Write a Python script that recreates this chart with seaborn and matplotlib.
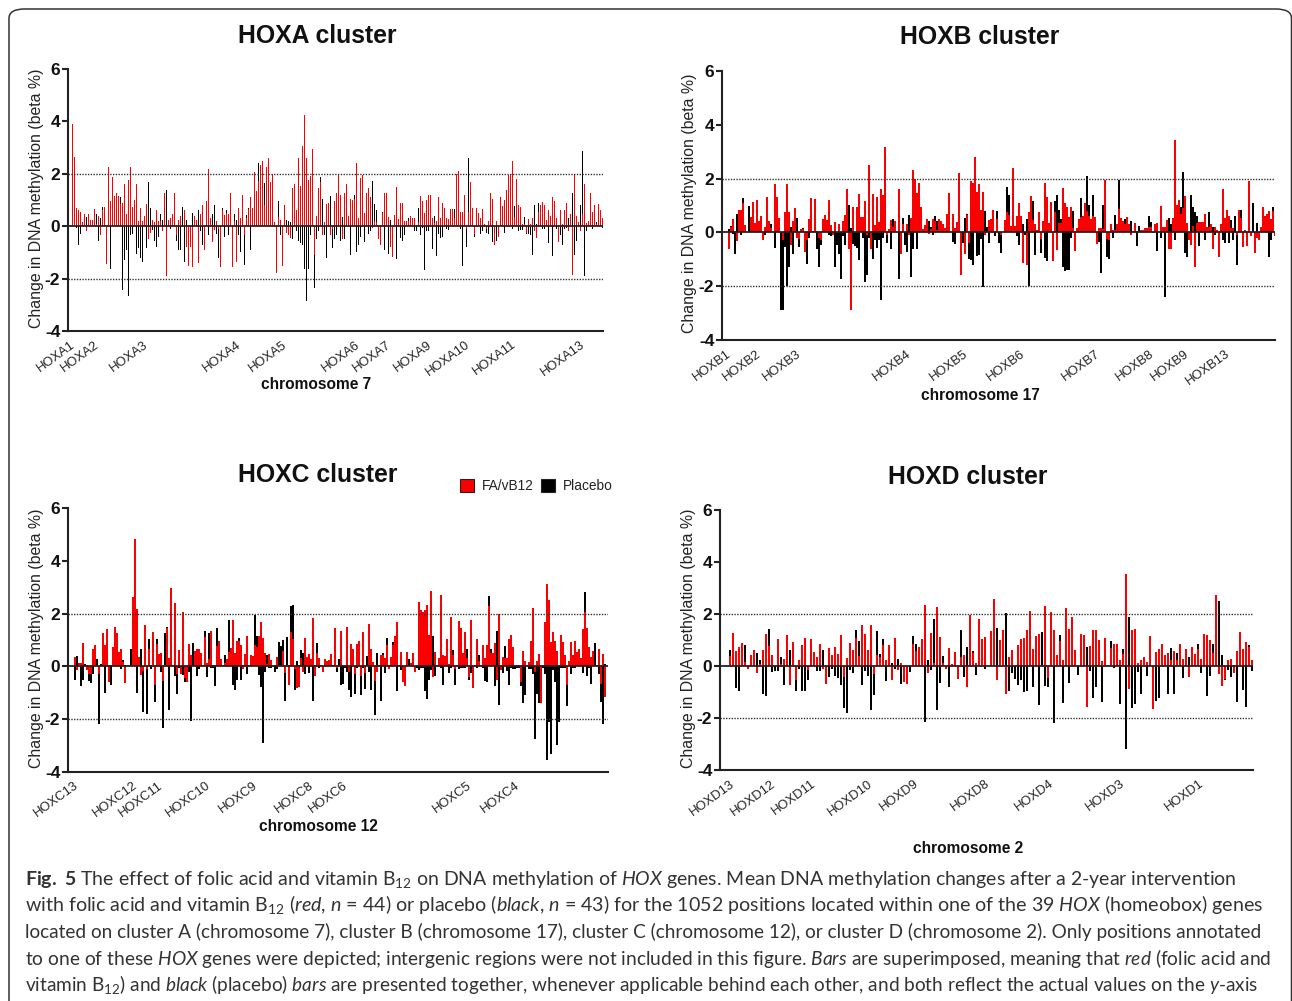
import matplotlib
matplotlib.use('Agg')
import matplotlib.pyplot as plt
from matplotlib.patches import FancyBboxPatch, Rectangle
import numpy as np
import seaborn as sns

W, H = 1292, 1001

# values, one list per cluster and arm
a_red = [3.9,2.65,.7,.6,.55,.15,.48,-.2,.48,.25,
    .25,.67,.1,.4,-.35,.62,.75,-1.45,2.25,.95,
    1.88,1.15,1.25,1.15,.85,.9,1.62,.45,1.75,2.25,
    .75,1.0,1.6,.2,.68,.2,.4,.83,-.5,-.25,
    .25,.15,.63,.18,.2,-.2,1.28,-1.9,.25,.3,
    .45,1.25,-.35,.25,.38,0,.63,-.78,-1.5,-.78,
    -1.55,.38,.25,-1.4,.48,.8,-.92,.98,2.2,.33,
    -.62,-.15,.18,-.12,-1.55,.6,.42,.52,.48,1.25,
    -1.55,.2,-1.35,.7,.33,1.2,-.32,.3,.65,1.13,
    .7,2.05,1.33,1.72,2.35,2.5,.8,2.25,2.62,1.7,
    2.0,.15,-1.8,.37,.25,-1.5,.8,-.25,-.35,-.45,
    1.45,1.6,.6,2.62,1.52,3.05,4.25,2.62,1.75,1.93,
    2.93,-1.1,.38,1.45,1.67,-.35,.15,.85,.9,-.35,
    -.1,.98,1.25,2.0,1.2,-.5,1.25,1.6,.4,1.05,
    1.0,1.05,2.42,.32,1.85,1.95,.5,1.25,1.45,1.1,
    -.05,.2,.15,-.5,-.7,.5,1.25,1.25,.37,-.8,
    -1.18,.42,1.48,.28,.9,.87,.2,.2,.2,.4,
    .33,.3,.05,.15,1.15,.95,.5,1.0,1.18,1.18,
    .33,.13,.2,1.1,.3,.9,.7,.33,.27,.65,
    .65,.33,2.0,2.1,.55,.55,1.18,-.1,.55,1.7,
    .68,-.3,.68,.5,.3,.65,.1,-.1,.2,1.25,
    1.05,-.7,.2,-.4,1.1,.78,1.0,1.4,1.95,2.0,
    2.5,.35,1.82,.8,.73,.1,.1,-.25,.28,.1,
    .33,-.2,-.45,.55,.8,.92,.8,.23,.62,.4,
    1.1,.95,.33,-.6,.6,.1,.63,.9,-.2,.45,
    -1.87,2.0,.4,.15,-.2,.45,1.6,.12,.2,1.25,
    .55,.8,.1,.85,.63,.3]
a_black = [2.25,1.2,-.05,-.7,-.3,.05,0,.35,.48,.05,
    .08,.48,.48,-.58,.3,.75,0,0,0,-1.65,
    1.18,.3,0,.3,1.1,-2.42,-1.3,-.9,-2.68,-.35,
    -.28,.7,-1.05,-.85,-1.22,-1.38,.4,-.85,1.67,.68,
    -.15,-.58,-.8,-.4,.45,.22,0,1.4,.18,-.1,
    .1,1.1,-.55,-.9,-.9,.75,-1.35,.25,-.55,-.65,
    .52,.35,.1,.6,-.18,-.7,-.38,.1,-.35,.1,
    .45,.8,-.3,-1.2,-.58,.68,-.42,.6,-.35,.45,
    -.05,.45,.22,-.35,-1.0,.3,-1.47,.42,.7,-.9,
    0,0,0,2.4,0,1.65,1.65,.6,.42,0,
    .98,-.02,0,.95,-.33,0,0,.22,.2,.15,
    -.5,0,-.2,-.55,-.65,-.72,-1.65,-2.85,-1.65,-.35,
    0,-2.35,-.5,-.18,1.87,1.05,-.35,-1.2,.2,1.17,
    -.85,-.5,-.35,.2,-.55,.35,-.5,1.1,.3,-1.1,
    0,1.18,-1.0,-.7,-.4,0,-.6,.55,-.3,-.2,
    1.72,.85,.6,-.2,0,.55,-.9,0,-1.05,.23,
    -.35,.25,-1.25,.1,-.45,-.55,-.35,.1,.3,.1,
    .05,-.2,-.2,.68,-.35,-.05,-1.68,-.2,-.2,.1,
    -.88,.4,-1.15,-.3,-.45,-.4,.2,-.1,-.15,.1,
    .65,.65,0,.62,-.1,-1.5,.1,-.8,2.6,1.25,
    .3,-.4,.3,.3,-.3,-.2,.05,-.25,-.3,.2,
    -.6,-.2,-.55,-.35,.1,.1,-.25,.2,0,.1,
    -.1,.77,.1,-.2,-.15,-.15,.35,-.3,-.3,-.35,
    -1.1,.8,.1,.9,.75,-.1,-.1,.1,-.65,.35,
    -1.15,.1,-.1,-.2,-.35,-.7,-.1,-.05,.3,.4,
    1.25,-1.1,-.55,.15,.8,2.87,-1.9,-.2,.1,.2,
    -.1,.1,.15,.73,.1,-.05]

b_red = [-.6,.2,.5,.05,-.32,.83,.83,1.1,.27,0,
    0,.57,1.12,.35,1.2,.42,.6,-.28,.2,1.32,
    .42,.18,0,1.8,1.3,.53,0,-.3,.75,1.8,
    .75,-.45,.42,.9,-.2,-.25,.12,.12,-.73,-.3,
    .5,1.27,0,1.23,.05,-.2,-.3,.5,.63,.45,
    1.2,.27,-.1,.38,0,.32,0,.42,.63,1.6,
    -.6,-2.88,.93,0,.93,1.42,.57,.57,1.17,-.1,
    2.5,-.6,1.42,.27,1.32,.4,1.6,1.4,3.17,-.1,
    .12,.45,.2,.42,0,1.6,-.8,.32,0,.32,
    -.1,.55,2.32,2.0,1.47,1.83,.95,.12,.27,.5,
    -.05,.12,.5,.42,.1,.5,.42,.32,.15,.68,
    1.47,0,.68,.15,.4,2.2,-1.58,0,-.8,.63,
    -.4,1.9,1.85,2.8,1.5,1.8,.85,1.5,-.1,0,
    .45,.5,.85,.05,.5,0,-.1,.03,.45,.75,
    .65,.22,2.4,.22,.6,1.1,.6,-1.15,0,-1.2,
    .75,1.35,.45,.3,.1,.75,-.25,.42,1.85,1.3,
    .35,1.13,-1.05,.75,-.65,.35,.35,1.65,1.08,.95,
    .58,.95,.15,-.68,.17,.48,.58,.6,1.08,.8,
    .6,.5,.6,.57,-.42,.15,.15,.13,1.95,-.25,
    -.3,.3,.1,.1,.3,.88,.53,.42,.3,.57,
    .32,-.08,.05,.35,.05,0,.08,.1,.17,.18,
    .2,.2,-.03,.33,.35,0,.98,.2,.2,.47,
    -.6,-.6,.55,3.42,1.0,1.2,.7,.9,1.35,.35,
    -.3,-.45,.25,-1.27,.35,.4,.4,.4,.7,.2,
    .2,.3,-.6,.2,.1,-.9,.3,1.62,.55,.85,
    .6,.17,.15,0,-.1,.85,.55,-.55,.1,-.5,
    1.9,-.15,0,-.75,-.2,-.3,.2,.95,.6,.68,
    .8,.5,.78,-.15]
b_black = [.13,.22,-.05,-.8,.68,0,-.1,1.27,0,0,
    .97,0,0,0,0,0,0,0,-.1,0,
    0,.3,0,-.57,0,0,-2.9,-2.9,-.55,-2.0,
    -1.27,.2,-.8,0,.52,-.55,0,.15,0,-1.17,
    -.2,0,.05,0,-.6,-1.3,-.45,0,0,.45,
    -.1,-.12,0,-1.3,-.47,-.8,-1.72,-.15,-.45,0,
    1.0,.15,-.42,-.5,-.58,-1.02,.57,-.22,-1.83,-1.57,
    -.2,0,-1.0,-.27,-.57,-.27,-2.5,-.22,0,-.38,
    0,-.63,.48,0,0,-1.72,0,.53,-.45,-.72,
    .63,-1.65,-.63,0,-.63,0,0,0,0,0,
    .42,.2,-.08,.6,.42,0,0,0,0,0,
    0,0,-.35,-.42,0,0,0,-.38,.52,.7,
    -1.0,-1.03,-1.2,0,-.88,-.83,-.25,-2.03,.8,.2,
    -.4,0,0,-.15,.8,-.4,-.75,0,0,1.68,
    1.4,0,0,0,-.15,-.48,.55,.32,-.1,.48,
    -1.98,0,1.15,-.85,0,.1,-.75,0,-.97,-1.08,
    0,0,0,1.15,1.4,.85,.5,-1.3,-1.42,-1.4,
    -1.38,-.2,.8,-.1,0,0,1.28,.3,0,2.08,
    1.0,0,1.4,0,0,-.35,-1.5,1.03,0,-.9,
    -1.0,0,-.2,.65,0,1.95,0,0,.5,0,
    0,.42,0,0,-.5,.22,0,0,0,0,
    .6,.4,0,0,-.7,0,-.22,0,-2.42,.3,
    .55,.3,0,-.3,0,.6,.95,2.25,-.75,-.9,
    0,1.4,.95,.75,.6,-.5,0,0,-.3,0,
    .75,0,.2,-.08,.05,0,0,-.3,-.4,0,
    -.4,.45,-.3,.6,-1.23,.8,.82,-.35,0,-.28,
    0,0,1.08,0,.35,0,0,0,0,0,
    -.9,-.3,.95,0]

c_red = [.35,-.12,.13,.13,.88,0,-.15,-.3,-.3,.65,
    .8,.05,-.28,0,1.27,.8,1.42,-.6,.05,.73,
    1.5,1.27,.55,.65,.18,-.62,.05,.05,.05,2.63,4.83,2.18,
    .35,-.32,-.18,1.57,-.1,.65,.05,1.3,-.7,.85,
    .47,.5,-.55,.05,1.47,.32,2.97,.05,2.4,-.28,
    .62,-.3,2.07,-.45,-.6,.85,.43,.05,.58,.65,
    .65,.5,.05,1.12,.13,.27,1.33,.05,.05,.78,
    .95,.27,.05,.13,.27,.53,.7,1.75,.5,.97,
    .97,.8,-.08,.47,1.15,.05,.43,.4,
    .8,.75,1.15,1.68,1.07,.5,.1,.47,.25,.05,
    .05,.35,.05,.05,.6,-.25,.05,-.7,1.3,1.05,
    -.1,-.8,-.78,.33,-.2,1.08,.37,.47,.28,1.83,
    -.35,.5,.3,.05,-.2,.28,.2,.25,.48,.05,
    1.47,-.05,.05,1.35,.05,.05,1.5,-.2,.85,.65,
    -.3,.85,.97,-.35,1.3,-.25,.05,1.62,.67,.18,
    -.55,-.2,.05,.45,.45,.3,.8,-.1,.35,.8,
    1.17,1.7,.05,.55,-.6,-.73,.55,.05,.12,.5,
    -.23,.05,2.45,2.15,2.05,2.15,2.33,1.2,2.87,-.4,
    .55,.05,.3,2.72,.43,.4,1.05,.1,1.87,.45,
    -.1,.05,1.73,1.47,.52,1.3,.3,-.42,1.77,-.8,
    .05,1.05,.22,.05,.8,.3,.8,2.3,.5,.5,
    .9,-.5,1.97,-.15,.35,.3,.33,1.05,1.18,.75,
    .05,.05,.05,-.6,.6,.22,.05,.15,.95,2.2,
    -.2,.22,.47,-1.38,.05,1.7,3.13,2.53,.93,1.3,
    .97,.57,.05,1.2,.93,.42,-.7,.2,.93,.42,
    .98,.55,.65,.3,1.4,2.07,1.47,.75,.37,.57,
    .05,.05,.65,-.65,.48,-1.17]
c_black = [-.5,.38,.1,-.73,-.5,.08,.05,-.55,-.62,-.28,
    .05,.28,-2.2,.1,.05,-1.0,.05,.05,-.72,.1,
    .05,.05,.05,-.1,.23,.05,.05,.05,.65,0,0,-1.0,
    0,.65,-1.72,.05,-1.8,1.03,-.1,.05,-1.35,1.03,
    .05,-.2,-2.33,1.27,1.5,-1.65,0,.05,-.38,-1.03,
    -.05,-.05,-.33,-.6,-.2,-.2,-2.05,.88,.05,-.35,
    -.1,.05,.05,1.33,-.42,1.27,-.05,-.05,-.73,1.45,
    .05,.27,.05,.42,.05,1.75,.7,-.72,-.88,-.5,
    1.07,-.5,.05,.05,-.27,.05,.05,.05,
    1.95,1.15,-.33,-.78,-2.9,-.2,.43,-.05,-.07,.05,
    -.22,-.08,.92,.77,1.0,-1.3,1.12,.05,2.3,2.33,
    -.88,.2,.05,.62,.5,-.27,.05,-.25,.05,-1.3,
    .05,.9,-.05,.05,-.1,.05,.05,.05,.05,.05,
    .05,-.2,.28,-.72,-.65,-.05,-.2,-.9,-1.15,.05,
    -1.03,-.05,.05,-1.1,-.05,-.85,.4,-.2,-.88,.05,
    -1.83,.52,.05,-1.3,.5,-.25,1.08,.05,.05,.92,
    .05,-.95,.05,-.15,-.55,-.7,.05,.28,.05,.05,
    -.05,-.05,-.15,-.05,-.05,-.92,-1.25,-.5,-.15,1.17,
    -.35,.05,.05,-.05,-.7,.05,.05,-.25,-.05,.63,
    -.7,.05,-.1,-.05,-.05,-.05,.65,-.5,-.25,-.05,
    .05,-.05,.45,.05,-.05,-.55,-.6,2.65,.65,.05,
    -.75,1.35,-1.45,-.05,-.25,.78,-.18,-.72,-.05,-.08,
    -.1,-.05,-.05,-.75,-1.38,-1.08,.05,-.08,-.08,-.3,
    -2.75,-1.03,-1.38,-1.38,-.05,-.3,-3.55,-2.1,-3.33,-.15,
    -.6,-2.98,-2.1,-.05,-.05,-.05,-1.5,.05,-.3,-.05,
    -.05,.05,.65,.33,-.25,2.8,-.38,-.05,-.65,.25,
    .87,.05,-.27,-1.33,-2.18,.08]

d_red = [.4,1.27,.57,.72,.87,.15,-.12,.42,.62,-.27,
    .08,.62,1.23,.78,.42,0,1.03,.08,.27,1.2,
    -.72,.92,-.53,.23,.8,1.07,-.15,1.03,.53,.35,
    .85,-.12,-.68,.7,.42,.72,.47,1.18,-.43,.3,
    .87,.62,1.07,.38,1.57,1.23,.62,1.57,-.3,.42,
    .33,.8,.23,.8,-.52,1.07,-.17,.12,-.6,-.68,
    0,.85,.58,.72,1.03,2.35,-.27,1.27,.1,2.27,
    1.12,.12,-.12,.7,.08,.53,-.5,.35,.42,-.8,
    1.97,.5,.12,1.8,1.03,1.1,0,1.35,2.58,-.55,
    1.0,1.38,-1.07,.33,.6,0,.8,1.05,1.08,1.38,
    2.13,.65,1.15,1.25,0,2.3,-.45,2.08,1.38,.42,
    .95,.23,2.23,1.42,1.88,.62,0,1.23,1.18,-1.58,
    .77,1.38,1.38,1.0,.2,1.07,.03,.7,.85,.85,
    .23,.47,3.53,-.88,1.38,1.42,.12,.23,.33,.15,
    1.15,-1.65,.55,.65,.85,.43,.5,.23,.57,.25,
    .85,.27,.65,-.42,.73,.47,.65,.27,1.23,1.18,
    1.0,.5,2.72,-.3,-.75,-.5,.23,.27,-.27,.58,
    1.3,.65,.92,.72,.23,.8,.5]
d_black = [.62,0,-.85,-.97,0,.8,0,0,0,.5,
    .23,-1.08,-1.15,1.42,-.23,-.2,-.2,.35,-.72,0,
    .62,0,-.95,-.1,-.95,-.95,-.53,0,0,-.2,
    -.2,.62,0,-.43,-.1,-.37,-.48,-.73,-1.6,-1.82,
    -.15,-.27,1.38,.97,-.72,-.18,-.37,-1.7,-1.1,1.35,
    .45,1.03,-.58,0,.12,-.1,.27,-.68,0,0,
    -.22,1.15,.85,0,0,-2.15,.23,-.15,1.8,-1.7,
    -.65,.38,0,-.8,0,0,0,1.38,-.42,.72,
    0,.57,-.33,0,0,-.1,0,0,0,1.47,
    0,0,2.03,-.95,-.25,-.5,-.72,-.55,-1.0,-.95,
    0,-.8,0,-1.5,1.3,-.77,-.8,0,-2.18,.42,
    1.18,-1.42,0,-.65,0,0,-.33,0,0,.73,
    -.2,-1.22,-.8,0,-1.37,0,.05,.95,-.07,0,
    -1.45,.65,-3.2,1.88,-1.6,-1.45,-.22,-1.08,0,-.38,
    0,0,-1.35,-1.22,0,0,-1.07,.7,-1.07,.5,
    0,-.45,0,.35,0,0,.85,-.27,0,-1.15,
    -.38,.85,0,2.5,.42,-.52,-.15,-.42,.03,-1.38,
    0,-.92,-1.57,.8,-.2,-.53,-1.6]

a_genes = ['HOXA1','HOXA2','HOXA3','HOXA4','HOXA5','HOXA6','HOXA7','HOXA9','HOXA10','HOXA11','HOXA13']
a_gene_pos = [.5,12.5,37,83.5,106.5,143,158.5,179,198,221,255.5]
b_genes = ['HOXB1','HOXB2','HOXB3','HOXB4','HOXB5','HOXB6','HOXB7','HOXB8','HOXB9','HOXB13']
b_gene_pos = [0,15,35,90,118.5,147,184.5,211.5,229,249.5]
c_genes = ['HOXC13','HOXC12','HOXC11','HOXC10','HOXC9','HOXC8','HOXC6','HOXC5','HOXC4']
c_gene_pos = [.5,30,42.5,66.5,90,118,135,197,221]
d_genes = ['HOXD13','HOXD12','HOXD11','HOXD10','HOXD9','HOXD8','HOXD4','HOXD3','HOXD1']
d_gene_pos = [.7,14.3,27.7,46.7,62.3,86,107,130.7,157.3]

caption = [
    r'$\mathbf{Fig.\ 5}$ The effect of folic acid and vitamin B$_{12}$ on DNA methylation of $\mathit{HOX}$ genes. Mean DNA methylation changes after a 2-year intervention',
    r'with folic acid and vitamin B$_{12}$ ($\mathit{red}$, $\mathit{n}$ = 44) or placebo ($\mathit{black}$, $\mathit{n}$ = 43) for the 1052 positions located within one of the 39 $\mathit{HOX}$ (homeobox) genes',
    r'located on cluster A (chromosome 7), cluster B (chromosome 17), cluster C (chromosome 12), or cluster D (chromosome 2). Only positions annotated',
    r'to one of these $\mathit{HOX}$ genes were depicted; intergenic regions were not included in this figure. $\mathit{Bars}$ are superimposed, meaning that $\mathit{red}$ (folic acid and',
    r'vitamin B$_{12}$) and $\mathit{black}$ (placebo) $\mathit{bars}$ are presented together, whenever applicable behind each other, and both reflect the actual values on the $\mathit{y}$-axis',
]
caption_right = [1239, 1268, 1266, 1273, 1265]
caption_y = [879, 905, 932, 959, 985]

sns.set_theme(style='ticks')
plt.rcParams['font.family'] = ['Liberation Sans', 'DejaVu Sans']
plt.rcParams['mathtext.fontset'] = 'custom'
plt.rcParams['mathtext.rm'] = 'Lato'
plt.rcParams['mathtext.it'] = 'Lato:italic'
plt.rcParams['mathtext.bf'] = 'Lato:bold'

fig = plt.figure(figsize=(W / 100, H / 100), dpi=100)


def fx(px):
    return px / W


def fy(py):
    return 1 - py / H


def draw_panel(title, chrom, red, black, genes, gene_pos, left, right, top, bottom,
               x0, step, width, title_xy, chrom_xy, ylabel_x):
    ax = fig.add_axes([fx(left), fy(bottom), (right - left) / W, (bottom - top) / H])
    sns.barplot(x=np.arange(len(black)), y=black, color='black', saturation=1,
                native_scale=True, width=width, linewidth=0, errorbar=None, ax=ax)
    sns.barplot(x=np.arange(len(red)), y=red, color='#fa0000', saturation=1,
                native_scale=True, width=width, linewidth=0, errorbar=None, ax=ax)
    ax.set_xlim((left - x0) / step, (right - x0) / step)
    ax.set_ylim(-4, 6)
    ax.axhline(0, color='#222222', lw=1.3, zorder=5)
    ax.axhline(2, color='#333333', lw=1, ls=(0, (1, 1)), zorder=1)
    ax.axhline(-2, color='#333333', lw=1, ls=(0, (1, 1)), zorder=1)
    sns.despine(ax=ax)
    for s in ['left', 'bottom']:
        ax.spines[s].set_linewidth(1.5)
        ax.spines[s].set_color('#222222')
    ax.set_yticks([-4, -2, 0, 2, 4, 6])
    ax.set_yticklabels(['-4', '-2', '0', '2', '4', '6'])
    ax.tick_params(axis='y', length=4, width=1.5, color='#222222', pad=1.5)
    for t in ax.get_yticklabels():
        t.set_fontsize(12.5)
        t.set_fontweight('bold')
        t.set_color('#111111')
    ax.set_xticks(np.array(gene_pos) + 1 / step)
    ax.set_xticklabels(genes, rotation=36, ha='right', va='center', rotation_mode='anchor',
                       fontsize=9.4, color='#222222')
    ax.tick_params(axis='x', length=0, pad=9)
    ax.set_xlabel('')
    ax.set_ylabel('')
    fig.text(fx(title_xy[0]), fy(title_xy[1]), title, fontsize=17.8, fontweight='bold',
             ha='center', va='center', color='#111111')
    fig.text(fx(chrom_xy[0]), fy(chrom_xy[1]), chrom, fontsize=11.2, fontweight='bold',
             ha='center', va='center', color='#111111')
    fig.text(fx(ylabel_x), fy((top + bottom) / 2 - 2), 'Change in DNA methylation (beta %)',
             fontsize=11.4, rotation=90, ha='center', va='center', color='#222222')
    return ax


draw_panel('HOXA cluster', 'chromosome 7', a_red, a_black, a_genes, a_gene_pos,
           68, 603, 69, 331, 72, 2, .5, (317, 36), (316, 384.5), 37)
draw_panel('HOXB cluster', 'chromosome 17', b_red, b_black, b_genes, b_gene_pos,
           722, 1275, 71, 340, 729, 2, 1, (980, 37), (980, 395.5), 689)
draw_panel('HOXC cluster', 'chromosome 12', c_red, c_black, c_genes, c_gene_pos,
           68, 608, 508, 772, 75, 2, .95, (318, 475), (318, 826.5), 37)
draw_panel('HOXD cluster', 'chromosome 2', d_red, d_black, d_genes, d_gene_pos,
           720, 1253, 510, 770, 730, 3, .7, (968, 477), (968, 848.5), 688)

# legend sits loose above panel C
for (lx, col) in [(460, '#fa0000'), (541, 'black')]:
    fig.add_artist(Rectangle((fx(lx), fy(492)), 14 / W, 13 / H, transform=fig.transFigure,
                             facecolor=col, edgecolor='#222222', lw=.8))
fig.text(fx(482), fy(486.5), 'FA/vB12', fontsize=9.9, va='center', color='#222222')
fig.text(fx(563), fy(486.5), 'Placebo', fontsize=9.9, va='center', color='#222222')

# rounded outer frame, open at the bottom
fig.add_artist(FancyBboxPatch((fx(9), fy(1040)), (1291.5 - 9) / W, (1040 - 9) / H,
                              boxstyle='round,pad=0,rounding_size=0.012',
                              transform=fig.transFigure, fill=False,
                              edgecolor='#333333', lw=1.1, mutation_aspect=H / W))

# caption lines, font size fitted to the justified width of each line
renderer = fig.canvas.get_renderer()
for line, xr, yy in zip(caption, caption_right, caption_y):
    t = fig.text(fx(25), fy(yy), line, fontsize=14, va='center', ha='left', color='#333333',
                 family='Lato')
    w = t.get_window_extent(renderer).width
    t.set_fontsize(14 * (xr - 25) / w)

fig.savefig('out.png', dpi=100)
